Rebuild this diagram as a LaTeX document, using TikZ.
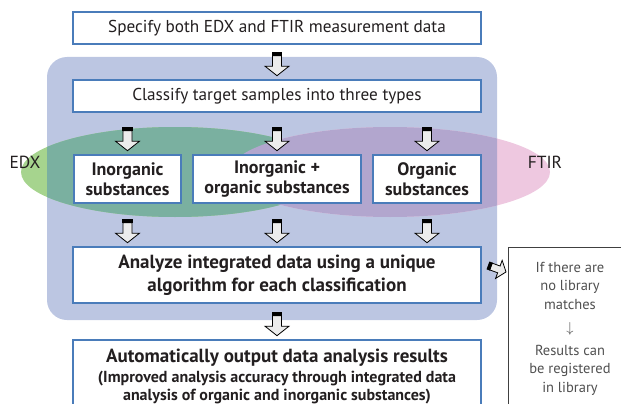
\documentclass[tikz,border=0pt]{standalone}
\usepackage{fontspec}
\setmainfont{PT Sans}

\definecolor{boxblue}{RGB}{74,124,186}
\definecolor{bgblue}{RGB}{188,198,226}
\definecolor{edxlight}{RGB}{166,212,142}
\definecolor{edxdark}{RGB}{122,176,160}
\definecolor{ftirlight}{RGB}{238,200,224}
\definecolor{ftirdark}{RGB}{178,166,206}
\definecolor{arrowgray}{RGB}{236,236,236}
\definecolor{textdark}{RGB}{35,31,32}
\definecolor{notegray}{RGB}{80,80,80}

\begin{document}
\begin{tikzpicture}[x=1pt, y=-1pt,
        flowbox/.style={draw=boxblue, line width=1.6pt, fill=white, text=textdark,
                align=center, inner sep=0pt},
        widebox/.style={flowbox, minimum width=408pt},
        typebox/.style={flowbox, minimum height=48pt,
                font=\bfseries\fontsize{18}{20}\selectfont},
        tagtext/.style={text=textdark, font=\fontsize{17.5}{20}\selectfont},
        pics/flowarrow/.style={code={
                \filldraw[fill=arrowgray, draw=black, line width=0.8pt]
                (-4.5,-20) -- (-4.5,-9.5) -- (-12,-9.5) -- (0,0) -- (12,-9.5)
                -- (4.5,-9.5) -- (4.5,-20) -- cycle;
                \fill[black] (-5.2,-24) rectangle (5.2,-19.5);
            }}]

        % ===============================
        % Marco de la imagen
        % ===============================
        \useasboundingbox (0,0) rectangle (621,404);
        \clip (0,0) rectangle (621,404);
        \def\rad{20pt}

        % Fondo del bloque de clasificacion
        \fill[bgblue, rounded corners=\rad] (47,57) rectangle (497,320);

        % ===============================
        % Elipses EDX y FTIR
        % ===============================
        \fill[edxlight] (175,172) ellipse (154 and 45);
        \fill[ftirlight] (390,172) ellipse (160 and 45);
        \begin{scope}
            \clip[rounded corners=\rad] (47,57) rectangle (497,320);
            \fill[edxdark] (175,172) ellipse (154 and 45);
            \fill[ftirdark] (390,172) ellipse (160 and 45);
        \end{scope}

        \node[tagtext] (edx) at (25,162) {EDX};
        \node[tagtext] (ftir) at (545,162) {FTIR};

        % ===============================
        % Cajas del flujo
        % ===============================
        \node[widebox, minimum height=32pt, font=\fontsize{17.2}{20}\selectfont]
        (spec) at (277,28) {Specify both EDX and FTIR measurement data};
        \node[widebox, minimum height=32pt, font=\fontsize{17.2}{20}\selectfont]
        (classify) at (277,96) {Classify target samples into three types};

        \node[typebox, minimum width=107pt] (inorg) at (127.5,179) {Inorganic\\substances};
        \node[typebox, minimum width=168pt] (mixed) at (277,179) {Inorganic +\\organic substances};
        \node[typebox, minimum width=108pt] (org) at (427,179) {Organic\\substances};

        \node[widebox, minimum height=56pt, font=\bfseries\fontsize{19}{23}\selectfont]
        (analyze) at (277,275) {Analyze integrated data using a unique\\algorithm for each classification};

        \node[widebox, minimum height=74pt, font=\bfseries\fontsize{16}{18}\selectfont]
        (result) at (277,377)
        {{\fontsize{19}{21}\selectfont Automatically output data analysis results}\\[2pt]
            (Improved analysis accuracy through integrated data\\
            analysis of organic and inorganic substances)};

        % Nota lateral
        \node[draw=black!75, line width=0.8pt, fill=white, anchor=north west,
            minimum width=140pt, minimum height=175pt, inner sep=0pt]
        (note) at (508,247) {};
        \node[text=notegray, align=center, font=\fontsize{14.5}{18.5}\selectfont]
        (notetext) at (570,328.5)
        {If there are\\no library\\matches\\[5pt]$\downarrow$\\[4pt]Results can\\be registered\\in library};

        % ===============================
        % Flechas de bloque
        % ===============================
        \pic[yshift=3.5pt] at (spec.south |- classify.north) {flowarrow};
        \foreach \n in {inorg,mixed,org}{
                \pic[yshift=3.5pt] at (\n.north) {flowarrow};
                \pic[yshift=3.5pt] at (\n.south |- analyze.north) {flowarrow};
            }
        \pic[yshift=3.5pt] at (analyze.south |- result.north) {flowarrow};
        \pic[rotate=70, scale=0.8] at ([xshift=-2pt, yshift=-25pt]note.north west) {flowarrow};

    \end{tikzpicture}
\end{document}
